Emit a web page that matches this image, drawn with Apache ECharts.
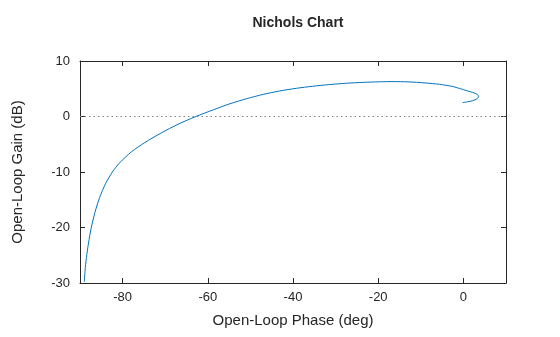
<!DOCTYPE html>
<html><head><meta charset="utf-8">
<script src="https://cdn.jsdelivr.net/npm/echarts@6/dist/echarts.min.js"></script>
<style>html,body{margin:0;padding:0;background:#fff}#c{width:560px;height:337px}</style>
</head><body><div id="c"></div>
<script>
const phaseDeg = [-89.0,-88.75,-88.4,-88.0,-87.35,-86.5,-85.4,-84.0,-82.4,-80.7,-77.9,-74.8,-70.9,-67.0,-62.8,-58.7,-54.8,-50.9,-47.0,-43.1,-39.2,-35.4,-31.5,-27.5,-23.6,-19.7,-16.5,-13.0,-9.0,-5.6,-2.5,-0.9,1.0,2.5,3.3,3.6,3.2,2.2,1.0,-0.2];
const gainDb   = [-29.8,-27.2,-24.9,-22.8,-20.0,-17.3,-14.6,-12.1,-10.0,-8.35,-6.35,-4.7,-2.95,-1.4,0,1.2,2.3,3.2,3.98,4.6,5.08,5.45,5.75,5.99,6.15,6.25,6.29,6.24,6.05,5.8,5.4,5.05,4.6,4.25,3.95,3.6,3.2,2.85,2.65,2.5];
const xTicks = [-80,-60,-40,-20,0];
const yTicks = [-30,-20,-10,0,10];
const title = 'Nichols Chart';
const xLabel = 'Open-Loop Phase (deg)';
const yLabel = 'Open-Loop Gain (dB)';

const pts = phaseDeg.map((p,i)=>[p,gainDb[i]]);
const font = 'Liberation Sans, Arial, sans-serif';
const axCommon = {
  type:'value', splitLine:{show:false},
  axisLine:{show:true,onZero:false,lineStyle:{color:'#262626',width:1}},
  axisTick:{show:true,inside:true,length:5,lineStyle:{color:'#262626'}},
};
const chart = echarts.init(document.getElementById('c'),null,{renderer:'canvas'});
chart.setOption({
  animation:false,
  backgroundColor:'#fff',
  title:{text:title,left:293,top:11,textAlign:'center',textStyle:{fontFamily:font,fontSize:14,fontWeight:'bold',color:'#262626'}},
  grid:{left:80,right:54,top:61,bottom:54},
  xAxis:[
    Object.assign({},axCommon,{min:-90,max:10,position:'bottom',
      axisLabel:{fontFamily:font,fontSize:13,color:'#262626',margin:8,customValues:xTicks},
      axisTick:{show:true,inside:true,length:5,lineStyle:{color:'#262626'},customValues:xTicks},
      name:xLabel,nameLocation:'middle',nameGap:30,
      nameTextStyle:{fontFamily:font,fontSize:15,color:'#262626'}}),
    Object.assign({},axCommon,{min:-90,max:10,position:'top',
      axisLabel:{show:false},
      axisTick:{show:true,inside:true,length:5,lineStyle:{color:'#262626'},customValues:xTicks}})
  ],
  yAxis:[
    Object.assign({},axCommon,{min:-30,max:10,position:'left',
      axisLabel:{fontFamily:font,fontSize:13,color:'#262626',margin:10,customValues:yTicks},
      axisTick:{show:true,inside:true,length:5,lineStyle:{color:'#262626'},customValues:yTicks},
      name:yLabel,nameLocation:'middle',nameGap:55,
      nameTextStyle:{fontFamily:font,fontSize:15,color:'#262626'}}),
    Object.assign({},axCommon,{min:-30,max:10,position:'right',
      axisLabel:{show:false},
      axisTick:{show:true,inside:true,length:5,lineStyle:{color:'#262626'},customValues:yTicks}})
  ],
  series:[{
    type:'line', data:pts, showSymbol:false, smooth:0.25,
    lineStyle:{color:'#0072BD',width:1},
    markLine:{silent:true,symbol:'none',label:{show:false},
      lineStyle:{color:'#808080',type:[1.5,3],width:1},
      data:[{yAxis:0}]}
  }]
});
</script></body></html>
